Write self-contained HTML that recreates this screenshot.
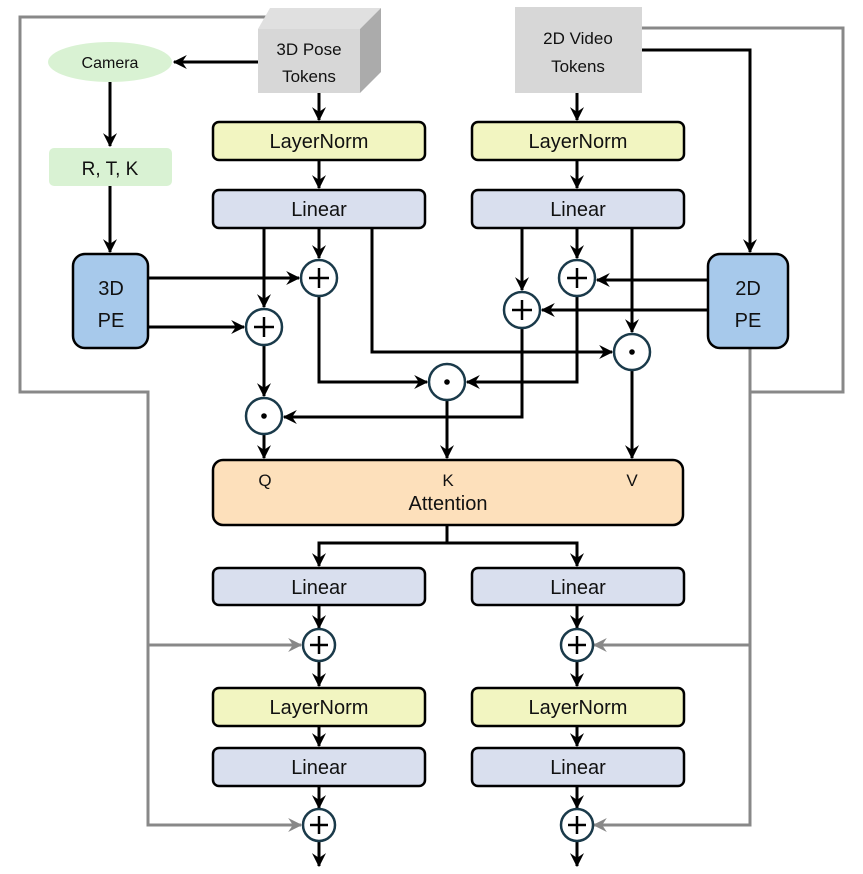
<!DOCTYPE html>
<html><head><meta charset="utf-8"><style>
html,body{margin:0;padding:0;background:#fff;}
svg{display:block;}
text{font-family:"Liberation Sans",sans-serif;fill:#111;}
</style></head><body>
<svg width="863" height="874" viewBox="0 0 863 874" xmlns="http://www.w3.org/2000/svg">
<defs>
<marker id="a" viewBox="0 0 12 12" refX="11" refY="6" markerWidth="14" markerHeight="14" markerUnits="userSpaceOnUse" orient="auto"><path d="M0,0 L12,6 L0,12 L4,6 Z" fill="#000"/></marker>
<marker id="g" viewBox="0 0 12 12" refX="11" refY="6" markerWidth="14" markerHeight="14" markerUnits="userSpaceOnUse" orient="auto"><path d="M0,0 L12,6 L0,12 L4,6 Z" fill="#888"/></marker>
</defs>
<g fill="none" stroke="#888" stroke-width="3">
<polyline points="270,17 20,17 20,392 148,392 148,825 283,825"/>
<line x1="148" y1="645" x2="283" y2="645"/>
<polyline points="642,28 843,28 843,392 750,392"/>
<polyline points="750,348 750,825 613,825"/>
<line x1="750" y1="645" x2="613" y2="645"/>
</g>
<g stroke="#888" stroke-width="3" fill="none">
<line x1="270" y1="645" x2="301" y2="645" marker-end="url(#g)"/>
<line x1="270" y1="825" x2="301" y2="825" marker-end="url(#g)"/>
<line x1="625" y1="645" x2="594" y2="645" marker-end="url(#g)"/>
<line x1="625" y1="825" x2="594" y2="825" marker-end="url(#g)"/>
</g>
<polygon points="258,29 270,8 381,8 360,29" fill="#e0e0e0"/>
<polygon points="360,29 381,8 381,72 360,93" fill="#ababab"/>
<rect x="258" y="29" width="102" height="64" fill="#d7d7d7"/>
<text x="309" y="55" font-size="17" text-anchor="middle">3D Pose</text>
<text x="309" y="82" font-size="17" text-anchor="middle">Tokens</text>
<rect x="515" y="7" width="127" height="86" fill="#d7d7d7"/>
<text x="578" y="44" font-size="17" text-anchor="middle">2D Video</text>
<text x="578" y="72" font-size="17" text-anchor="middle">Tokens</text>
<ellipse cx="110" cy="62" rx="62" ry="20" fill="#d9f2d3"/>
<text x="110" y="68" font-size="16" text-anchor="middle">Camera</text>
<rect x="49" y="148" width="123" height="38" rx="5" fill="#d9f2d3"/>
<text x="110" y="175" font-size="19" text-anchor="middle">R, T, K</text>
<rect x="73" y="254" width="75" height="94" rx="12" fill="#a7c9eb" stroke="#000" stroke-width="2.5"/>
<text x="111" y="295" font-size="20" text-anchor="middle">3D</text>
<text x="111" y="327" font-size="20" text-anchor="middle">PE</text>
<rect x="708" y="254" width="80" height="94" rx="12" fill="#a7c9eb" stroke="#000" stroke-width="2.5"/>
<text x="748" y="295" font-size="20" text-anchor="middle">2D</text>
<text x="748" y="327" font-size="20" text-anchor="middle">PE</text>
<g stroke="#000" stroke-width="2.5">
<rect x="213" y="122" width="212" height="38" rx="6" fill="#f2f5c1"/>
<rect x="472" y="122" width="212" height="38" rx="6" fill="#f2f5c1"/>
<rect x="213" y="190" width="212" height="38" rx="6" fill="#d9dfee"/>
<rect x="472" y="190" width="212" height="38" rx="6" fill="#d9dfee"/>
<rect x="213" y="460" width="470" height="65" rx="10" fill="#fde0bb"/>
<rect x="213" y="568" width="212" height="37" rx="6" fill="#d9dfee"/>
<rect x="472" y="568" width="212" height="37" rx="6" fill="#d9dfee"/>
<rect x="213" y="688" width="212" height="38" rx="6" fill="#f2f5c1"/>
<rect x="472" y="688" width="212" height="38" rx="6" fill="#f2f5c1"/>
<rect x="213" y="748" width="212" height="38" rx="6" fill="#d9dfee"/>
<rect x="472" y="748" width="212" height="38" rx="6" fill="#d9dfee"/>
</g>
<g font-size="20" text-anchor="middle">
<text x="319" y="148">LayerNorm</text><text x="578" y="148">LayerNorm</text>
<text x="319" y="216">Linear</text><text x="578" y="216">Linear</text>
<text x="319" y="594">Linear</text><text x="578" y="594">Linear</text>
<text x="319" y="714">LayerNorm</text><text x="578" y="714">LayerNorm</text>
<text x="319" y="774">Linear</text><text x="578" y="774">Linear</text>
<text x="448" y="510">Attention</text>
</g>
<g font-size="17" text-anchor="middle">
<text x="265" y="486">Q</text><text x="448" y="486">K</text><text x="632" y="486">V</text>
</g>
<g stroke="#000" stroke-width="3" fill="none">
<line x1="258" y1="62" x2="174" y2="62" marker-end="url(#a)"/>
<line x1="110" y1="82" x2="110" y2="146" marker-end="url(#a)"/>
<line x1="110" y1="186" x2="110" y2="252" marker-end="url(#a)"/>
<line x1="319" y1="93" x2="319" y2="120" marker-end="url(#a)"/>
<line x1="577" y1="93" x2="577" y2="120" marker-end="url(#a)"/>
<line x1="319" y1="160" x2="319" y2="188" marker-end="url(#a)"/>
<line x1="577" y1="160" x2="577" y2="188" marker-end="url(#a)"/>
<polyline points="642,50 750,50 750,252" marker-end="url(#a)"/>
<line x1="319" y1="228" x2="319" y2="258" marker-end="url(#a)"/>
<line x1="264" y1="228" x2="264" y2="307" marker-end="url(#a)"/>
<line x1="148" y1="278" x2="299" y2="278" marker-end="url(#a)"/>
<line x1="148" y1="327" x2="244" y2="327" marker-end="url(#a)"/>
<polyline points="372,228 372,352 612,352" marker-end="url(#a)"/>
<polyline points="319,297 319,382 427,382" marker-end="url(#a)"/>
<line x1="264" y1="346" x2="264" y2="396" marker-end="url(#a)"/>
<line x1="577" y1="228" x2="577" y2="258" marker-end="url(#a)"/>
<line x1="522" y1="228" x2="522" y2="290" marker-end="url(#a)"/>
<line x1="632" y1="228" x2="632" y2="332" marker-end="url(#a)"/>
<line x1="708" y1="280" x2="597" y2="280" marker-end="url(#a)"/>
<line x1="708" y1="310" x2="542" y2="310" marker-end="url(#a)"/>
<polyline points="577,297 577,382 467,382" marker-end="url(#a)"/>
<polyline points="522,329 522,417 284,417" marker-end="url(#a)"/>
<line x1="264" y1="435" x2="264" y2="458" marker-end="url(#a)"/>
<line x1="447" y1="401" x2="447" y2="458" marker-end="url(#a)"/>
<line x1="632" y1="371" x2="632" y2="458" marker-end="url(#a)"/>
<line x1="447" y1="525" x2="447" y2="543"/>
<polyline points="319,566 319,543 577,543 577,566"/>
<line x1="319" y1="543" x2="319" y2="566" marker-end="url(#a)"/>
<line x1="577" y1="543" x2="577" y2="566" marker-end="url(#a)"/>
<line x1="319" y1="605" x2="319" y2="628" marker-end="url(#a)"/>
<line x1="577" y1="605" x2="577" y2="628" marker-end="url(#a)"/>
<line x1="319" y1="662" x2="319" y2="686" marker-end="url(#a)"/>
<line x1="577" y1="662" x2="577" y2="686" marker-end="url(#a)"/>
<line x1="319" y1="726" x2="319" y2="746" marker-end="url(#a)"/>
<line x1="577" y1="726" x2="577" y2="746" marker-end="url(#a)"/>
<line x1="319" y1="786" x2="319" y2="808" marker-end="url(#a)"/>
<line x1="577" y1="786" x2="577" y2="808" marker-end="url(#a)"/>
<line x1="319" y1="842" x2="319" y2="866" marker-end="url(#a)"/>
<line x1="577" y1="842" x2="577" y2="866" marker-end="url(#a)"/>
</g>
<g stroke="#1a3a4a" stroke-width="2.5" fill="#fff">
<circle cx="319" cy="278" r="18"/><circle cx="264" cy="327" r="18"/>
<circle cx="577" cy="278" r="18"/><circle cx="522" cy="310" r="18"/>
<circle cx="632" cy="352" r="18"/><circle cx="447" cy="382" r="18"/><circle cx="264" cy="416" r="18"/>
<circle cx="319" cy="645" r="16"/><circle cx="577" cy="645" r="16"/>
<circle cx="319" cy="825" r="16"/><circle cx="577" cy="825" r="16"/>
</g>
<g stroke="#000" stroke-width="2.5">
<path d="M309,278h20M319,268v20 M254,327h20M264,317v20 M567,278h20M577,268v20 M512,310h20M522,300v20 M310,645h18M319,636v18 M568,645h18M577,636v18 M310,825h18M319,816v18 M568,825h18M577,816v18"/>
</g>
<g fill="#000"><circle cx="632" cy="352" r="2.8"/><circle cx="447" cy="382" r="2.8"/><circle cx="264" cy="416" r="2.8"/></g>
</svg>
</body></html>
